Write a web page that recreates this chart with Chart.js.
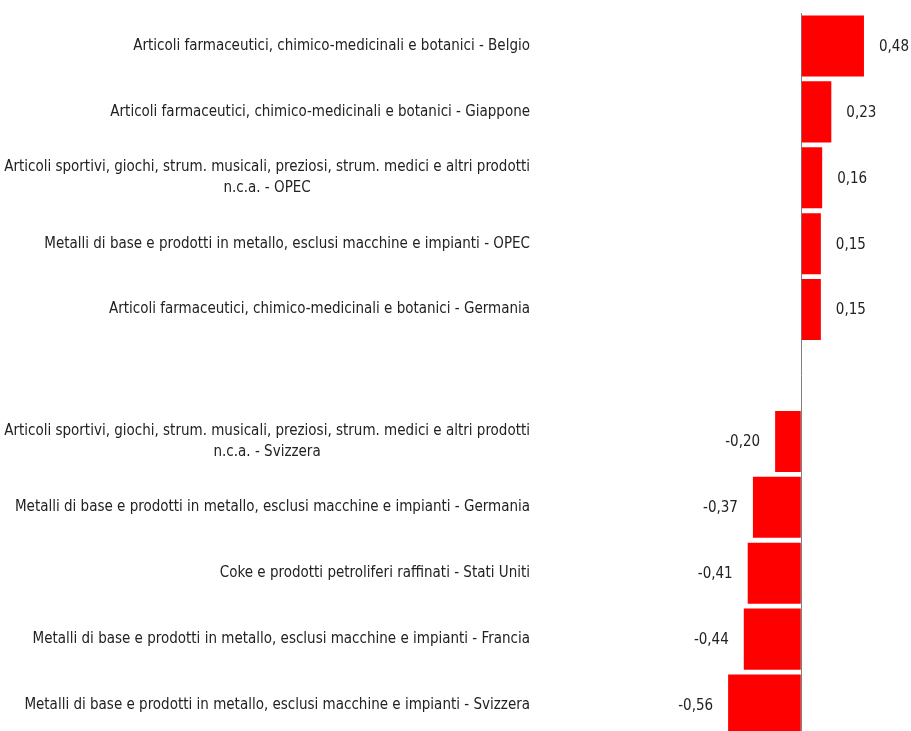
<!DOCTYPE html>
<html lang="it">
<head>
  <meta charset="UTF-8">
  <title>Contributi</title>
  <script src="https://cdn.jsdelivr.net/npm/chart.js"></script>
  <style>
    html, body {
      margin: 0;
      padding: 0;
      background: #fff;
      overflow: hidden;
    }
    #chart-container {
      width: 911px;
      height: 738px;
    }
  </style>
</head>
<body>

<div id="chart-container">
  <canvas id="chart"></canvas>
</div>

<script>
  const categories = [
    'Articoli farmaceutici, chimico-medicinali e botanici - Belgio',
    'Articoli farmaceutici, chimico-medicinali e botanici - Giappone',
    ['Articoli sportivi, giochi, strum. musicali, preziosi, strum. medici e altri prodotti', 'n.c.a. - OPEC'],
    'Metalli di base e prodotti in metallo, esclusi macchine e impianti - OPEC',
    'Articoli farmaceutici, chimico-medicinali e botanici - Germania',
    '',
    ['Articoli sportivi, giochi, strum. musicali, preziosi, strum. medici e altri prodotti', 'n.c.a. - Svizzera'],
    'Metalli di base e prodotti in metallo, esclusi macchine e impianti - Germania',
    'Coke e prodotti petroliferi raffinati - Stati Uniti',
    'Metalli di base e prodotti in metallo, esclusi macchine e impianti - Francia',
    'Metalli di base e prodotti in metallo, esclusi macchine e impianti - Svizzera'
  ];
  const values = [0.48, 0.23, 0.16, 0.15, 0.15, null, -0.20, -0.37, -0.41, -0.44, -0.56];

  const FONT = '15px "Liberation Sans Narrow", "Arial Narrow", "DejaVu Sans Condensed", sans-serif';

  // draws the category labels (second line centred under the first) and the value labels
  const labelPlugin = {
    id: 'labels',
    afterDatasetsDraw(chart) {
      const ctx = chart.ctx;
      const yScale = chart.scales.y;
      const meta = chart.getDatasetMeta(0);
      ctx.save();
      ctx.font = FONT;
      ctx.fillStyle = '#222';
      ctx.textBaseline = 'middle';

      categories.forEach((lab, i) => {
        const lines = Array.isArray(lab) ? lab : [lab];
        if (!lines[0]) return;
        const y = yScale.getPixelForValue(i);
        const w = Math.max(...lines.map(l => ctx.measureText(l).width));
        const cx = 530 - w / 2;
        const lh = 21;
        ctx.textAlign = 'center';
        lines.forEach((l, k) => {
          ctx.fillText(l, cx, y + (k - (lines.length - 1) / 2) * lh);
        });
      });

      meta.data.forEach((bar, i) => {
        const v = values[i];
        if (v === null) return;
        const txt = v.toFixed(2).replace('.', ',');
        if (v >= 0) {
          ctx.textAlign = 'left';
          ctx.fillText(txt, bar.x + 15, bar.y + 1);
        } else {
          ctx.textAlign = 'right';
          ctx.fillText(txt, bar.x - 15, bar.y + 1);
        }
      });
      ctx.restore();
    }
  };

  new Chart(document.getElementById('chart'), {
    type: 'bar',
    data: {
      labels: categories,
      datasets: [{
        data: values,
        backgroundColor: '#ff0000',
        borderWidth: 0,
        categoryPercentage: 1,
        barPercentage: 0.926
      }]
    },
    options: {
      indexAxis: 'y',
      responsive: true,
      maintainAspectRatio: false,
      animation: false,
      layout: { padding: { top: 13, right: 0, bottom: 0, left: 0 } },
      plugins: {
        legend: { display: false },
        tooltip: { enabled: false }
      },
      scales: {
        x: {
          min: -2,
          max: 0.84,
          ticks: { display: false },
          border: { display: false },
          grid: {
            drawTicks: false,
            lineWidth: 1,
            color: c => c.tick && c.tick.value === 0 ? '#808080' : 'rgba(0,0,0,0)'
          }
        },
        y: {
          ticks: { display: false },
          border: { display: false },
          grid: { display: false },
          afterFit(scale) { scale.width = 540; }
        }
      }
    },
    plugins: [labelPlugin]
  });
</script>

</body>
</html>
